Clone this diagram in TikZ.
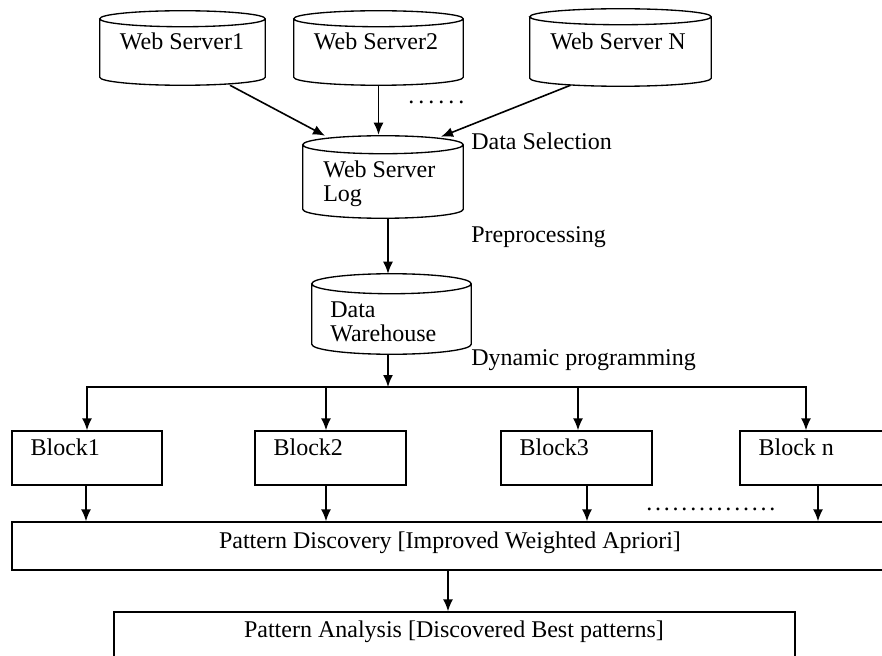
\documentclass[tikz,border=0pt]{standalone}
\usepackage{fontspec}
\setmainfont{Liberation Serif}
\usetikzlibrary{arrows.meta,calc,fit}

\tikzset{
  box/.style={draw,line width=1pt,inner sep=0pt},
  txt/.style={font=\fontsize{18}{18}\selectfont,inner sep=0pt,anchor=base},
  arr/.style={->,line width=1.2pt},
}
%% drum: name, x left, x right, y top, y bottom, y radius
\newcommand{\drum}[6]{%
  \node[inner sep=0pt,fit={(#2,#4) (#3,#5)}] (#1) {};
  \draw[line width=1pt] let \p1=($(#1.east)-(#1.west)$) in
    (#1.north west) -- (#1.south west)
    arc[start angle=180,end angle=360,x radius=0.5*\x1,y radius=#6]
    -- (#1.north east)
    arc[start angle=0,end angle=360,x radius=0.5*\x1,y radius=#6];
}

\begin{document}
\begin{tikzpicture}[x=0.75pt,y=-0.75pt,>={Latex[length=9pt,width=7.5pt]}]
    \useasboundingbox (0,0) rectangle (882,656);
    \clip (0,0) rectangle (882,656);
    %% web servers
    \drum{ws1}{100}{265}{19}{77}{6pt}
    \drum{ws2}{294}{463}{19}{77}{6pt}
    \drum{wsn}{530}{711}{17}{78}{6pt}
    \node[txt] (ws1-t) at (182,50) {Web Server1};
    \node[txt] (ws2-t) at (376,50) {Web Server2};
    \node[txt] (wsn-t) at (618,50) {Web Server N};
    \node[txt,anchor=base west] (dots1) at (408,104) {.\,.\,.\,.\,.\,.};
    %% log and warehouse
    \drum{log}{303}{463}{145}{209}{6.75pt}
    \node[txt,anchor=base west,align=left] (log-t) at (323,202) {Web Server\\Log};
    \drum{dw}{312}{471}{284}{344}{7.5pt}
    \node[txt,anchor=base west,align=left] (dw-t) at (330,341) {Data\\Warehouse};
    %% step labels
    \node[txt,anchor=base west] (sel) at (471,150) {Data Selection};
    \node[txt,anchor=base west] (pre) at (471,243) {Preprocessing};
    \node[txt,anchor=base west] (dyn) at (471,365) {Dynamic programming};
    %% into the log
    \draw[arr] ($(ws1.south)+(47.5,8)$) -- ($(log.north)+(-58,-9)$);
    \draw[arr] ($(ws2.south)+(0,9)$) -- ($(ws2.south |- log.north)+(0,-10)$);
    \draw[arr] ($(wsn.south)+(-50,7)$) -- ($(log.north)+(58,-8)$);
    \coordinate (l1) at ($(log.south)+(5,9)$);
    \draw[arr] (l1) -- ($(l1 |- dw.north)+(0,-10)$);
    %% blocks
    \node[box,fit={(12,522) (888,570)}] (pd) {};
    \node[txt] (pd-t) at (450,548) {Pattern Discovery [Improved Weighted Apriori]};
    \coordinate (split) at (388,387);
    \draw[arr] ($(dw.south)+(-3.5,10)$) -- (split);
    \foreach \b/\n/\xl/\xr/\din/\dout in {b1/Block1/12/162/0/-1,b2/Block2/255/406/-4.5/-4.5,
        b3/Block3/501/652/1.5/10.5,bn/Block n/740/890/-9/3}{
      \node[box,fit={(\xl,431) (\xr,485)}] (\b) {};
      \node[txt,anchor=base west] (\b-t) at ($(\b.north west)+(19,25)$) {\n};
      \draw[arr] (split) -| ($(\b.north)+(\din,0)$);
      \coordinate (o) at ($(\b.south)+(\dout,0)$);
      \draw[arr] (o) -- (o |- pd.north);
    }
    \node[txt,anchor=base west] (dots2) at (646,510)
      {.\kern2.1pt.\kern2.1pt.\kern2.1pt.\kern2.1pt.\kern2.1pt.\kern2.1pt.\kern2.1pt.\kern2.1pt.\kern2.1pt.\kern2.1pt.\kern2.1pt.\kern2.1pt.\kern2.1pt.\kern2.1pt.};
    %% analysis
    \node[box,fit={(114,612) (795,700)}] (pa) {};
    \node[txt] (pa-t) at (454,637) {Pattern Analysis [Discovered Best patterns]};
    \coordinate (p1) at ($(pd.south)+(-2,0)$);
    \draw[arr] (p1) -- (p1 |- pa.north);
\end{tikzpicture}
\end{document}
